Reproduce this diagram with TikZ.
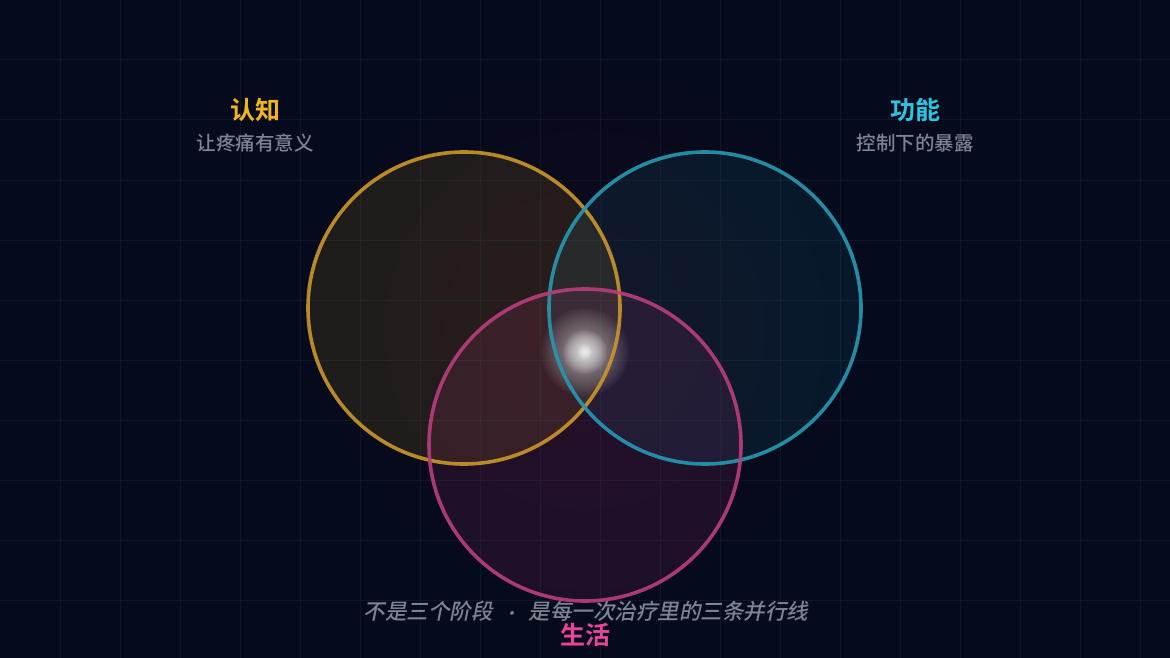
\documentclass[tikz,border=0pt]{standalone}
\usepackage{fontspec}
\setmainfont{Noto Sans CJK SC}[BoldFont={Noto Sans CJK SC Bold}]
\newfontfamily\slantfont{Noto Sans CJK SC Medium}[FakeSlant=0.2]
\newfontfamily\medfont{Noto Sans CJK SC Medium}
\definecolor{bg}{HTML}{050A1C}
\definecolor{gridc}{HTML}{10162A}
\definecolor{cy}{HTML}{F2B51F}
\definecolor{cc}{HTML}{2CC6E2}
\definecolor{cp}{HTML}{E8459A}
\definecolor{sy}{HTML}{C8942A}
\definecolor{sc}{HTML}{2597B0}
\definecolor{sp}{HTML}{B83D7C}
\definecolor{subg}{HTML}{7F8492}
\tikzset{
  ring/.style={line width=3.6pt},
  title/.style={font=\bfseries\fontsize{25}{28}\selectfont, anchor=center},
  subtitle/.style={font=\medfont\fontsize{19.5}{23}\selectfont, text=subg, anchor=center},
}
\begin{document}
\begin{tikzpicture}[x=1pt,y=-1pt]
\useasboundingbox (0,0) rectangle (1170,658);
\fill[bg] (0,0) rectangle (1170,658);
% faint haze
\foreach \r in {260,240,...,60}
  \fill[cp, opacity=0.008] (585,330) circle (\r);
% grid
\foreach \x in {60,120,...,1140}
  \draw[gridc, line width=1pt] (\x,0) -- (\x,658);
\foreach \y in {60,120,...,600}
  \draw[gridc, line width=1pt] (0,\y) -- (1170,\y);
% circle fills
\coordinate (cY) at (464,308);
\coordinate (cC) at (705,308);
\coordinate (cP) at (585,445);
\fill[cy, opacity=0.11] (cY) circle (156);
\fill[cc, opacity=0.08] (cC) circle (156);
\fill[cp, opacity=0.10] (cP) circle (156);
% center glow
\coordinate (glow) at (585,352);
\foreach \r in {44,42,...,2}
  \fill[white, opacity=0.032] (glow) circle (\r);
\foreach \r in {22,20.5,...,1.5}
  \fill[white, opacity=0.07] (glow) circle (\r);
\foreach \r in {7,6,...,1}
  \fill[white, opacity=0.12] (glow) circle (\r);
% rings
\draw[ring, sy, opacity=0.92] (cY) circle (156);
\draw[ring, sc, opacity=0.92] (cC) circle (156);
\draw[ring, sp, opacity=0.92] (cP) circle (156);
% labels
\node[title, text=cy] (tY) at (255,110) {认知};
\node[subtitle] (sY) at (255,143) {让疼痛有意义};
\node[title, text=cc] (tC) at (915,110) {功能};
\node[subtitle] (sC) at (915,143) {控制下的暴露};
\node[title, text=cp] (tP) at (585,635) {生活};
\node[font=\slantfont\fontsize{21.5}{25}\selectfont, text=subg, anchor=center] (cap) at (586,611)
  {不是三个阶段\hspace{10pt}{\fontsize{16}{20}\selectfont·}\hspace{10pt}是每一次治疗里的三条并行线};
\end{tikzpicture}
\end{document}
